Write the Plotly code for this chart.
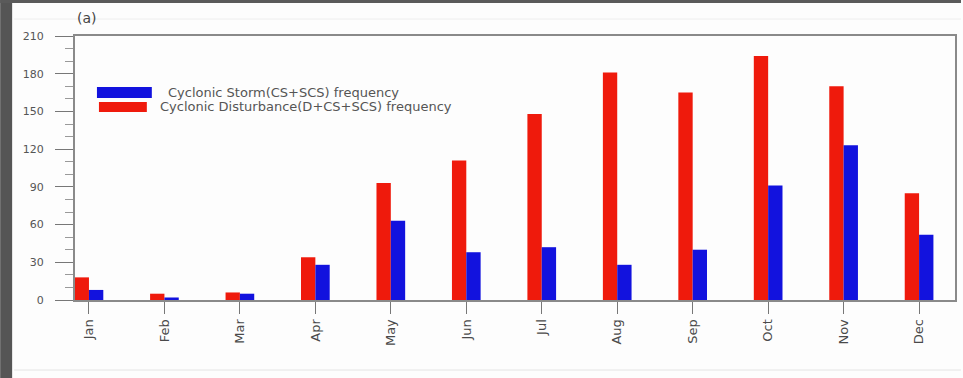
import plotly.graph_objects as go

# Monthly frequencies
months = ["Jan", "Feb", "Mar", "Apr", "May", "Jun",
          "Jul", "Aug", "Sep", "Oct", "Nov", "Dec"]
disturbance_freq = [18, 5, 6, 34, 93, 111, 148, 181, 165, 194, 170, 85]
storm_freq = [8, 2, 5, 28, 63, 38, 42, 28, 40, 91, 123, 52]
y_ticks = [0, 30, 60, 90, 120, 150, 180, 210]

legend_storm = "Cyclonic Storm(CS+SCS) frequency"
legend_dist = "Cyclonic Disturbance(D+CS+SCS) frequency"

RED = "#ef1a0c"
BLUE = "#1212de"
GREY = "#5a5a5a"

W, H = 963, 378
ML, MR, MT, MB = 75, 6, 36, 78
PW, PH = W - ML - MR, H - MT - MB


def px_x(p):
    return (p - ML) / PW


def px_y(p):
    return 1 - (p - MT) / PH


xpos = list(range(len(months)))
bar_w = 0.19

fig = go.Figure()
fig.add_trace(go.Bar(x=xpos, y=disturbance_freq, name=legend_dist,
                     marker=dict(color=RED, line=dict(width=0)),
                     width=bar_w, offset=-bar_w, showlegend=False))
fig.add_trace(go.Bar(x=xpos, y=storm_freq, name=legend_storm,
                     marker=dict(color=BLUE, line=dict(width=0)),
                     width=bar_w, offset=0, showlegend=False))

shapes = [
    # dark frame band on the left and top of the panel
    dict(type="rect", xref="paper", yref="paper",
         x0=px_x(0), x1=px_x(12), y0=px_y(H), y1=px_y(0),
         fillcolor="#555555", line=dict(width=0), layer="below"),
    dict(type="rect", xref="paper", yref="paper",
         x0=px_x(0), x1=px_x(W), y0=px_y(3), y1=px_y(0),
         fillcolor="#5a5a5a", line=dict(width=0), layer="below"),
    # faint panel lines
    dict(type="line", xref="paper", yref="paper",
         x0=px_x(14), x1=px_x(W), y0=px_y(370), y1=px_y(370),
         line=dict(color="#e4e4e4", width=1)),
    dict(type="line", xref="paper", yref="paper",
         x0=px_x(14), x1=px_x(W), y0=px_y(19), y1=px_y(19),
         line=dict(color="#eeeeee", width=1)),
    # legend swatches
    dict(type="rect", xref="paper", yref="paper",
         x0=px_x(97), x1=px_x(152), y0=px_y(98), y1=px_y(87),
         fillcolor=BLUE, line=dict(width=0)),
    dict(type="rect", xref="paper", yref="paper",
         x0=px_x(99), x1=px_x(147), y0=px_y(112), y1=px_y(102),
         fillcolor=RED, line=dict(width=0)),
]

annotations = [
    dict(text="(a)", xref="paper", yref="paper", x=px_x(75), y=px_y(18),
         xanchor="left", yanchor="middle", showarrow=False,
         font=dict(size=14, color="#444444", family="DejaVu Sans")),
    dict(text=legend_storm, xref="paper", yref="paper", x=px_x(166), y=px_y(92),
         xanchor="left", yanchor="middle", showarrow=False,
         font=dict(size=13, color="#555555", family="DejaVu Sans")),
    dict(text=legend_dist, xref="paper", yref="paper", x=px_x(158), y=px_y(106),
         xanchor="left", yanchor="middle", showarrow=False,
         font=dict(size=13, color="#555555", family="DejaVu Sans")),
]

fig.update_layout(
    width=W, height=H,
    margin=dict(l=ML, r=MR, t=MT, b=MB),
    paper_bgcolor="#fdfdfd", plot_bgcolor="#fdfdfd",
    barmode="overlay",
    shapes=shapes, annotations=annotations,
    font=dict(family="DejaVu Sans", color=GREY),
)
fig.update_xaxes(
    range=[-0.185, 11.476], tickmode="array", tickvals=xpos, ticktext=months,
    tickangle=-90, ticks="outside", ticklen=12, tickcolor="#777777",
    showline=True, linecolor="#8a8a8a", linewidth=2, mirror=True,
    showgrid=False, zeroline=False,
    tickfont=dict(size=13, color="#4a4a4a"),
)
fig.update_yaxes(
    range=[0, 210], tickmode="array", tickvals=y_ticks,
    ticks="outside", ticklen=18, tickcolor="#777777",
    ticklabelstandoff=9,
    minor=dict(dtick=10, ticks="outside", ticklen=8, tickcolor="#999999"),
    showline=True, linecolor="#8a8a8a", linewidth=2, mirror=True,
    showgrid=False, zeroline=False,
    tickfont=dict(size=11, color="#555555"),
)

fig.write_html("out.html")
